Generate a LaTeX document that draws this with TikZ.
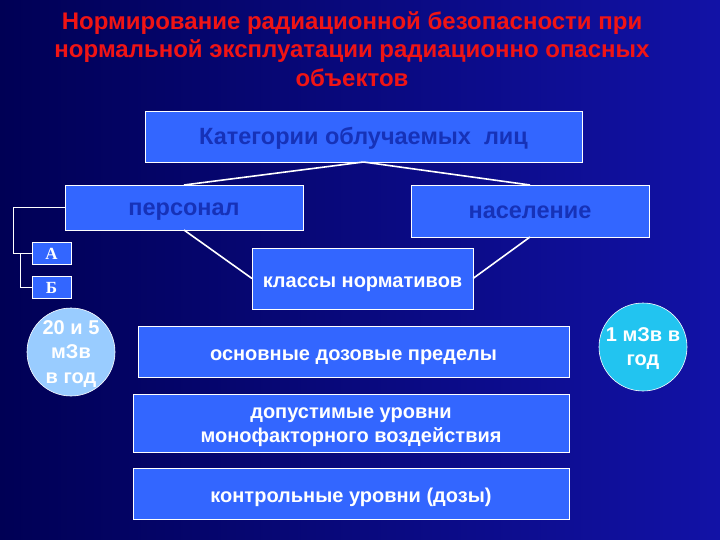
\documentclass[tikz,border=0pt]{standalone}
\usepackage{fontspec}
\setmainfont{Liberation Sans}
\newfontfamily\serifbold{Liberation Serif}
\usepackage{xcolor}
\definecolor{slidebg}{HTML}{000055}
\definecolor{slidebgr}{HTML}{1212A6}
\definecolor{boxblue}{HTML}{3366FF}
\definecolor{darktext}{HTML}{1632B8}
\definecolor{titlered}{HTML}{F01414}
\definecolor{paleblue}{HTML}{99CCFF}
\definecolor{cyanblue}{HTML}{22C4F0}
\newcommand{\bigtxt}{\fontsize{23.5}{27}\selectfont\bfseries}
\newcommand{\midtxt}{\fontsize{20}{24.5}\selectfont\bfseries}

\begin{document}
\begin{tikzpicture}[x=1pt,y=-1pt,
    every node/.style={inner sep=0,outer sep=0},
    box/.style={draw=white,line width=0.8pt,fill=boxblue,align=center,text depth=0pt},
    topbox/.style={box,text=darktext,font=\bigtxt,text height=15.5pt},
    normbox/.style={box,text=white,font=\midtxt,minimum width=436pt,text height=17pt},
    letterbox/.style={box,text=white,minimum width=39pt,minimum height=22pt,font=\serifbold\bfseries\fontsize{17}{17}\selectfont,text height=12pt},
    dose/.style={circle,draw=white,line width=0.6pt,text=white,align=center,minimum size=88pt,font=\midtxt,text depth=0pt},
    link/.style={white,line width=1.6pt},
    bracket/.style={white,line width=0.7pt}]
    \shade[left color=slidebg,right color=slidebgr] (0,0) rectangle (720,540);
    \useasboundingbox (0,0) rectangle (720,540);

    \node(title)[text=titlered,align=center,font=\fontsize{24}{28.5}\selectfont\bfseries] at (352,49) {
      Нормирование радиационной безопасности при\\
      нормальной эксплуатации радиационно опасных\\
      объектов};

    \node(cat)[topbox,minimum width=437pt,minimum height=51pt] at (363.5,136.5) {Категории облучаемых \ лиц};
    \node(pers)[topbox,minimum width=238pt,minimum height=45pt] at (184,207.5) {персонал};
    \node(pop)[topbox,minimum width=238pt,minimum height=52pt] at (530,211) {население};
    \draw[link] (cat.south) -- (pers.north);
    \draw[link] (cat.south) -- (pop.north);

    \node(cls)[normbox,minimum width=221pt,minimum height=61pt] at (362.5,278.5) {классы нормативов};
    \draw[link] (pers.south) -- (cls.west);
    \draw[link] (pop.south) -- (cls.east);

    \node(A)[letterbox] at (51.5,253) {А};
    \node(B)[letterbox] at (51.5,287.5) {Б};
    \draw[bracket] (pers.west) -| ([xshift=-19pt]A.west) -- (A.west);
    \draw[bracket] ([xshift=-12pt]A.west) |- (B.west);

    \node(staff)[dose,fill=paleblue,text height=62pt] at (71,352) {20 и 5\\мЗв\\в год};
    \node(public)[dose,fill=cyanblue,text height=37pt] at (643,347) {1 мЗв в\\год};

    \node(basic)[normbox,minimum width=431pt,minimum height=51pt] at (353.5,351.5) {основные дозовые пределы};
    \node(mono)[normbox,minimum height=58pt,text height=39pt] at (351,423) {допустимые уровни\\монофакторного воздействия};
    \node(ctrl)[normbox,minimum height=51pt] at (351,493.5) {контрольные уровни (дозы)};
  \end{tikzpicture}
\end{document}
